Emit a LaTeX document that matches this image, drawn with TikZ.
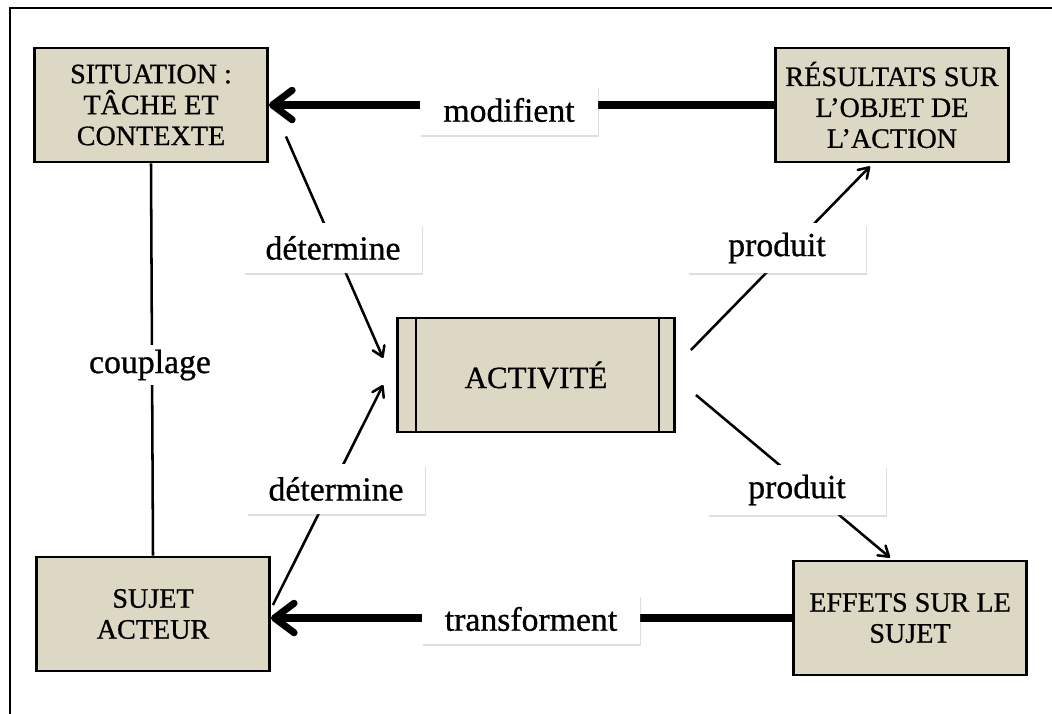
\documentclass[tikz,border=0pt]{standalone}
\usepackage{fontspec}
\setmainfont[FakeBold=0.8]{Liberation Serif}
\usepackage{tikz}
\usetikzlibrary{arrows.meta}
\usetikzlibrary{calc}
\usetikzlibrary{positioning}
\usetikzlibrary{shadows}
\definecolor{beige}{RGB}{221,216,196}
\begin{document}
\begin{tikzpicture}
	[x=0.025cm,y=-0.025cm,
	box/.style={draw,line width=2pt,fill=beige,minimum width=5.825cm,minimum height=2.85cm,align=center,font=\fontsize{20}{22}\selectfont},
	label/.style={fill=white,minimum width=4.45cm,minimum height=1.225cm,font=\fontsize{24}{28}\selectfont,drop shadow={opacity=0.25,shadow xshift=1pt,shadow yshift=-2pt}},
	thick arrow/.style={line width=5pt,-{Straight Barb[length=14pt,width=21pt,round]}},
	thin arrow/.style={line width=1.8pt,-{Straight Barb[length=7pt,width=9pt,round]}}]
	\useasboundingbox (0,0) rectangle (1052,714);
	\draw[line width=1.4pt] (10,714) -- (10,8) -- (1052,8);
	\node[box] (sit) at (151,105) {SITUATION :\\TÂCHE ET\\CONTEXTE};
	\node[box] (res) at (892,105) {RÉSULTATS SUR\\L’OBJET DE\\L’ACTION};
	\node[box,minimum width=6.925cm,font=\fontsize{22}{24}\selectfont] (act) at (536,375) {ACTIVITÉ};
	\draw[line width=2pt] ($(act.north west)+(20,0)$) -- ($(act.south west)+(20,0)$);
	\draw[line width=2pt] ($(act.north east)+(-17,0)$) -- ($(act.south east)+(-17,0)$);
	\node[box] (suj) at (153,614) {SUJET\\ACTEUR};
	\node[box] (eff) at (910,618) {EFFETS SUR LE\\SUJET};
	\draw[thick arrow] (res.west) -- (res.west -| sit.east);
	\draw[thick arrow] (eff.west) -- (eff.west -| suj.east);
	\draw[line width=1.8pt] (sit.south) -- (suj.north);
	\draw[thin arrow] ($(sit.south east)+(17,-27)$) -- ($(act.west)+(-13,-17)$);
	\draw[thin arrow] ($(suj.east)+(2,-9)$) -- ($(act.west)+(-13,10)$);
	\draw[thin arrow] ($(act.east)+(15,-25)$) -- ($(res.south)+(-22,3)$);
	\draw[thin arrow] ($(act.east)+(20,20)$) -- ($(eff.north)+(-20,-2)$);
	\node[label] (modif) at (509,110) {modifient};
	\node[label,minimum width=5.45cm] (transf) at (531,619) {transforment};
	\node[label] (det1) at (333,248) {détermine};
	\node[label] (det2) at (336,489) {détermine};
	\node[label] (prod1) at (777,248) {produit};
	\node[label] (prod2) at (797,490) {produit};
	\node[fill=white,font=\fontsize{24}{28}\selectfont] (coupl) at (150,365) {couplage};
\end{tikzpicture}
\end{document}
